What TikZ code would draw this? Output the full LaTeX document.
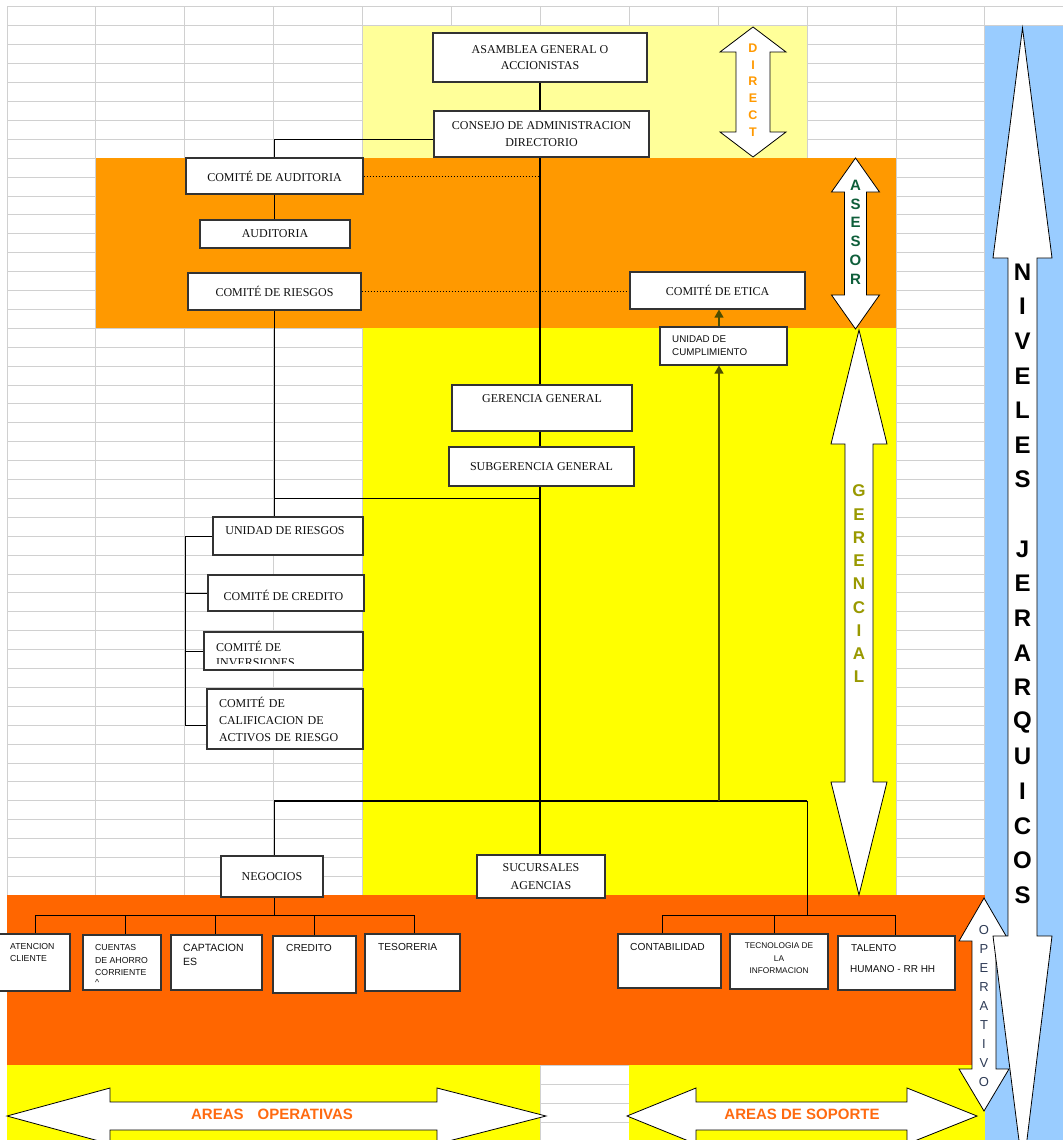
\documentclass[tikz,border=0pt]{standalone}
\usepackage{fontspec}
\setmainfont{Liberation Serif}
\newfontfamily\sansf{Liberation Sans}
\usetikzlibrary{arrows.meta,calc}
\definecolor{lyel}{HTML}{FFFF99}
\definecolor{orgc}{HTML}{FF9900}
\definecolor{yelc}{HTML}{FFFF00}
\definecolor{redo}{HTML}{FF6600}
\definecolor{bluc}{HTML}{99CCFF}
\definecolor{gridc}{HTML}{D0D0D0}
\definecolor{boxc}{HTML}{333333}
\definecolor{txtc}{HTML}{101010}
\definecolor{dirc}{HTML}{FF9900}
\definecolor{asec}{HTML}{0E5E3A}
\definecolor{gerc}{HTML}{999900}
\definecolor{opec}{HTML}{2E3B55}
\definecolor{areac}{HTML}{FF6A10}
\definecolor{olivl}{HTML}{4D4D00}
\pgfdeclarelayer{bg}
\pgfdeclarelayer{mid}
\pgfsetlayers{bg,mid,main}
\begin{document}
\begin{tikzpicture}[x=1pt,y=-1pt,
  box/.style={draw=boxc, fill=white, line width=1.1pt, inner sep=0pt, text=txtc, align=center, font=\fontsize{12}{16.5}\selectfont},
  lbl/.style={inner sep=0pt, text=txtc, font=\fontsize{12}{16.5}\selectfont},
  stx/.style={inner sep=0pt, text=txtc, anchor=west, font=\sansf\fontsize{10.2}{12}\selectfont},
  ssm/.style={stx, font=\sansf\fontsize{8.7}{10}\selectfont},
  ssc/.style={inner sep=0pt, text=txtc, font=\sansf\fontsize{8.3}{10}\selectfont},
  conn/.style={draw=black, line width=1pt},
  trunk/.style={draw=black, line width=2pt},
  dotl/.style={draw=black, line width=0.9pt, dash pattern=on 1.5pt off 1.5pt},
  arr/.style={draw=olivl, line width=1.2pt, -{Triangle[width=9pt,length=8pt]}},
  shp/.style={fill=white, draw=black, line width=0.8pt, line join=miter},
  dirf/.style={inner sep=0pt, text=dirc, font=\sansf\bfseries\fontsize{12.5}{13}\selectfont},
  asef/.style={inner sep=0pt, text=asec, font=\sansf\bfseries\fontsize{15}{15}\selectfont},
  gerf/.style={inner sep=0pt, text=gerc, font=\sansf\bfseries\fontsize{17}{17}\selectfont},
  opef/.style={inner sep=0pt, text=opec, font=\sansf\fontsize{13}{13}\selectfont},
  nivf/.style={inner sep=0pt, text=black, font=\sansf\bfseries\fontsize{24}{24}\selectfont},
  areaf/.style={inner sep=0pt, text=areac, font=\sansf\bfseries\fontsize{15}{15}\selectfont},
]
\useasboundingbox (0,0) rectangle (1063,1140);

\begin{pgfonlayer}{bg}
\fill[white] (0,0) rectangle (1063,1140);
\foreach \k in {0,...,12} \draw[gridc, line width=1pt] ({7+88.9*\k},7) -- ({7+88.9*\k},1140);
\foreach \k in {0,...,60} \draw[gridc, line width=1pt] (7,{7+18.9*\k}) -- (1063,{7+18.9*\k});
\fill[lyel] (362.6,25.9) rectangle (807.1,158.2);
\fill[orgc] (95.9,158.2) rectangle (896,328.3);
\fill[yelc] (362.6,328.3) rectangle (896,895.3);
\fill[redo] (7,895.3) rectangle (984.9,1065.4);
\fill[yelc] (7,1065.4) rectangle (540.4,1140);
\fill[yelc] (629.3,1065.4) rectangle (984.9,1140);
\fill[bluc] (984.9,25.9) rectangle (1063,1140);
% DIRECT
\path[shp] (753,27) -- (786,52) -- (770,52) -- (770,132) -- (786,132) -- (753,157) -- (720,132) -- (736,132) -- (736,52) -- (720,52) -- cycle;
% ASESOR
\path[shp] (855.5,158) -- (879.5,192) -- (866.5,192) -- (866.5,295) -- (879.5,295) -- (855.5,329) -- (831.5,295) -- (844.5,295) -- (844.5,192) -- (831.5,192) -- cycle;
% GERENCIAL
\path[shp] (859,330) -- (887,444) -- (873,444) -- (873,782) -- (887,782) -- (859,895) -- (831,782) -- (845,782) -- (845,444) -- (831,444) -- cycle;
% OPERATIVO
\path[shp] (984,898) -- (1009,941) -- (996,941) -- (996,1069) -- (1009,1069) -- (984,1111) -- (959,1069) -- (972,1069) -- (972,941) -- (959,941) -- cycle;
% NIVELES JERARQUICOS
\path[shp] (1022.5,28) -- (1052,258) -- (1037,258) -- (1037,936) -- (1052,936) -- (1023,1172) -- (993,936) -- (1008,936) -- (1008,258) -- (993,258) -- cycle;
% AREAS OPERATIVAS
\path[shp] (7,1116) -- (110,1088) -- (110,1102) -- (437,1102) -- (437,1088) -- (546,1116) -- (437,1144) -- (437,1130) -- (110,1130) -- (110,1144) -- cycle;
% AREAS DE SOPORTE
\path[shp] (627,1116) -- (696,1088) -- (696,1102) -- (907,1102) -- (907,1088) -- (977,1116) -- (907,1144) -- (907,1130) -- (696,1130) -- (696,1144) -- cycle;
\end{pgfonlayer}

% arrow letters
\foreach \l [count=\i] in {D,I,R,E,C,T} \node[dirf] (dl\i) at (753,{48+16.8*(\i-1)}) {\l};
\foreach \l [count=\i] in {A,S,E,S,O,R} \node[asef] (as\i) at (855.5,{185+18.9*(\i-1)}) {\l};
\foreach \l [count=\i] in {G,E,R,E,N,C,I,A,L} \node[gerf] (ge\i) at (859,{491+23.25*(\i-1)}) {\l};
\foreach \l [count=\i] in {O,P,E,R,A,T,I,V,O} \node[opef] (op\i) at (984,{930+18.96*(\i-1)}) {\l};
\foreach \l [count=\i] in {N,I,V,E,L,E,S} \node[nivf] (nv\i) at (1022.5,{272+34.6*(\i-1)}) {\l};
\foreach \l [count=\i] in {J,E,R,A,R,Q,U,I,C,O,S} \node[nivf] (nj\i) at (1022.5,{549+34.6*(\i-1)}) {\l};
\node[areaf] (aop) at (272,1114) {AREAS\hspace{14pt}OPERATIVAS};
\node[areaf] (asop) at (802,1114) {AREAS DE SOPORTE};

% boxes
\node[box, minimum width=214pt, minimum height=49pt] (asamblea) at (540,57.5) {ASAMBLEA GENERAL O\\ACCIONISTAS};
\node[box, minimum width=215pt, minimum height=46pt] (consejo) at (541.5,134) {CONSEJO DE ADMINISTRACION\\DIRECTORIO};
\node[box, minimum width=177pt, minimum height=36pt] (cauditoria) at (274.5,176) {COMITÉ DE AUDITORIA};
\node[box, minimum width=150pt, minimum height=28pt] (auditoria) at (275,234) {AUDITORIA};
\node[box, minimum width=173pt, minimum height=37pt] (criesgos) at (274.5,291.5) {COMITÉ DE RIESGOS};
\node[box, minimum width=175pt, minimum height=37pt] (cetica) at (717.5,290.5) {COMITÉ DE ETICA};
\node[box, minimum width=127pt, minimum height=38pt] (cumpl) at (723.5,346) {};
\node[stx, font=\sansf\fontsize{9.8}{12}\selectfont] (cumpl1) at (672,339) {UNIDAD DE};
\node[stx, font=\sansf\fontsize{9.8}{12}\selectfont] (cumpl2) at (672,352) {CUMPLIMIENTO};
\node[box, minimum width=180pt, minimum height=46pt] (gerencia) at (542,408) {};
\node[lbl] (gerl) at (542,399) {GERENCIA GENERAL};
\node[box, minimum width=185pt, minimum height=39pt] (subger) at (541.5,466.5) {SUBGERENCIA GENERAL};
\node[box, minimum width=150pt, minimum height=38pt] (uriesgos) at (288,536) {};
\node[lbl] (uril) at (285,531) {UNIDAD DE RIESGOS};
\node[box, minimum width=156pt, minimum height=36pt] (ccredito) at (286,593) {};
\node[lbl] (ccrl) at (283.5,595) {COMITÉ DE CREDITO};
\node[box, minimum width=159pt, minimum height=38pt] (cinvers) at (283.5,651) {};
\node[lbl, anchor=west] (cinl1) at (216,646) {COMITÉ DE};
\begin{scope}
\clip (205,633) rectangle (362,663.5);
\node[lbl, anchor=west] (cinl2) at (216,662.5) {INVERSIONES};
\end{scope}
\node[box, minimum width=156pt, minimum height=60pt, align=left, text width=132pt, inner xsep=12pt, font=\fontsize{12}{17}\selectfont] (ccalif) at (285,719) {COMITÉ DE\\CALIFICACION DE\\ACTIVOS DE RIESGO};
\node[box, minimum width=102pt, minimum height=41pt] (negocios) at (272,876.5) {NEGOCIOS};
\node[box, minimum width=128pt, minimum height=43pt, font=\fontsize{12}{17.5}\selectfont] (sucursales) at (541,876.5) {SUCURSALES\\AGENCIAS};

% bottom operative boxes
\node[box, minimum width=75pt, minimum height=57pt] (atencion) at (32.5,962.5) {};
\node[ssm] (at1) at (10,946) {ATENCION};
\node[ssm] (at2) at (10,958) {CLIENTE};
\node[box, minimum width=78pt, minimum height=55pt] (cuentas) at (122,962.5) {};
\node[ssm] (cu1) at (95,947) {CUENTAS};
\node[ssm] (cu2) at (95,960) {DE AHORRO};
\node[ssm] (cu3) at (95,972) {CORRIENTE};
\node[ssm] (cu4) at (95,982) {\textasciicircum};
\node[box, minimum width=91pt, minimum height=55pt] (captac) at (216.5,962.5) {};
\node[stx, font=\sansf\fontsize{10.5}{12}\selectfont] (ca1) at (183,948) {CAPTACION};
\node[stx, font=\sansf\fontsize{10.5}{12}\selectfont] (ca2) at (183,962) {ES};
\node[box, minimum width=83pt, minimum height=57pt] (credito) at (314.5,964.5) {};
\node[stx] (cr1) at (286,948) {CREDITO};
\node[box, minimum width=95pt, minimum height=57pt] (tesoreria) at (412.5,962.5) {};
\node[stx] (te1) at (378,947) {TESORERIA};

% bottom support boxes
\node[box, minimum width=103pt, minimum height=54pt] (contab) at (669.5,961) {};
\node[stx] (co1) at (630,947) {CONTABILIDAD};
\node[box, minimum width=98pt, minimum height=55pt] (tecnol) at (779,961.5) {};
\node[ssc] (tc1) at (779,946) {TECNOLOGIA DE};
\node[ssc] (tc2) at (779,959) {LA};
\node[ssc] (tc3) at (779,971) {INFORMACION};
\node[box, minimum width=117pt, minimum height=54pt] (talento) at (896.5,963) {};
\node[stx, font=\sansf\fontsize{10}{12}\selectfont] (ta1) at (851,948) {TALENTO};
\node[stx, font=\sansf\fontsize{10}{12}\selectfont] (ta2) at (850,969) {HUMANO - RR HH};

% connectors
\begin{pgfonlayer}{mid}
\coordinate (trk) at (540,801);
\draw[trunk] (asamblea.south) -- (asamblea.south |- consejo.north);
\draw[trunk] (consejo.south -| trk) -- (trk |- sucursales.north);
\draw[conn] ($(consejo.west)+(0,5)$) -| (cauditoria.north);
\draw[conn] (cauditoria.south) -- (cauditoria.south |- auditoria.north);
\draw[dotl] (cauditoria.east) -- (cauditoria.east -| trk);
\draw[dotl] (criesgos.east) -- (criesgos.east -| cetica.west);
\draw[conn] (criesgos.south) -- (criesgos.south |- uriesgos.north);
\coordinate (rj) at (274.5,498);
\draw[conn] (rj) -- (rj -| trk);
\coordinate (brT) at (185,536);
\coordinate (brB) at (185,725);
\draw[conn] (uriesgos.west) -- (brT) -- (brB) -- (brB -| ccalif.west);
\draw[conn] (ccredito.west) -- (ccredito.west -| brT);
\draw[conn] (cinvers.west) -- (cinvers.west -| brT);
\coordinate (barL) at (274,801);
\coordinate (barR) at (807,801);
\draw[trunk, line width=2.3pt] (barL) -- (barR);
\draw[conn] (barL) -- (barL |- negocios.north);
\coordinate (cj) at (719,801);
\draw[arr] (cj) -- (cj |- cumpl.south);
\draw[arr] (cj |- cumpl.north) -- (cj |- cetica.south);
% operative areas
\coordinate (blL) at (35,915);
\coordinate (blR) at (414,915);
\coordinate (d2) at (125.5,915);
\coordinate (d3) at (215.5,915);
\coordinate (d4) at (314.5,915);
\draw[conn] (barL |- negocios.south) -- (barL |- blL);
\draw[conn] (blL) -- (blR);
\draw[conn] (blL) -- (blL |- atencion.north);
\draw[conn] (d2) -- (d2 |- cuentas.north);
\draw[conn] (d3) -- (d3 |- captac.north);
\draw[conn] (d4) -- (d4 |- credito.north);
\draw[conn] (blR) -- (blR |- tesoreria.north);
% support areas
\coordinate (rbL) at (662,915);
\coordinate (rbM) at (774,915);
\coordinate (rbR) at (895,915);
\draw[conn] (barR) -- (barR |- rbL);
\draw[conn] (rbL) -- (rbR);
\draw[conn] (rbL) -- (rbL |- contab.north);
\draw[conn] (rbM) -- (rbM |- tecnol.north);
\draw[conn] (rbR) -- (rbR |- talento.north);
\end{pgfonlayer}
\end{tikzpicture}
\end{document}
